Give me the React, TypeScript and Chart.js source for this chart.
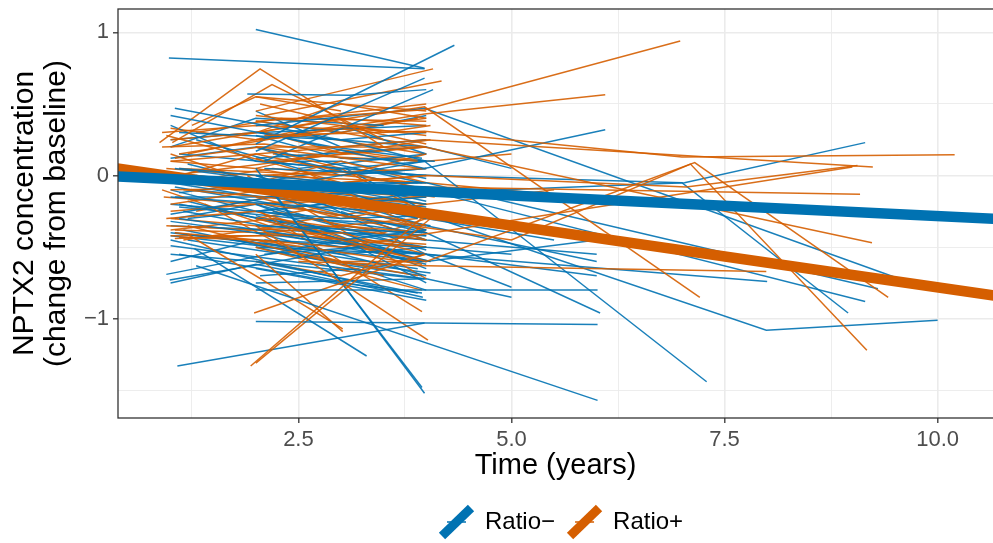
import React, { useEffect, useRef } from 'react';
import { Chart, registerables } from 'chart.js';

Chart.register(...registerables);

// ---- data ----
const xTickValues = [2.5, 5.0, 7.5, 10.0];
const yTickValues = [-1, 0, 1];
const yTickLabels = ['\u22121', '0', '1'];
const legendLabels = ['Ratio\u2212', 'Ratio+'];

// fitted group lines (time, change) read at the panel edges
const fitTimes = [0, 11];
const ratioNegFit = [0.004, -0.311];
const ratioPosFit = [0.082, -0.867];

// individual trajectories: [time (years), change from baseline]
const ratioNegSubjects: number[][][] = [
  [[2.0, 1.02], [3.98, 0.75]],
  [[0.98, 0.82], [3.98, 0.745]],
  [[2.0, 0.22], [4.33, 0.91]],
  [[1.05, 0.47], [3.08, 0.24], [4.0, 0.1]],
  [[1.9, 0.57], [3.1, 0.56], [4.0, 0.6]],
  [[2.0, 0.17], [3.98, 0.68]],
  [[2.1, 0.1], [4.08, 0.6]],
  [[1.0, 0.42], [2.9, 0.2], [3.95, 0.12]],
  [[2.05, 0.3], [3.98, 0.05], [6.1, 0.32]],
  [[2.0, 0.35], [3.98, 0.47], [9.5, -0.71]],
  [[2.0, -0.25], [4.0, -0.12], [7.03, -0.05], [9.15, 0.23]],
  [[2.1, 0.05], [4.1, 0.0], [7.0, -0.05], [8.95, -0.96]],
  [[1.1, 0.05], [3.98, -0.1], [9.15, -0.88]],
  [[1.2, -0.05], [4.0, -0.05], [9.3, -0.79]],
  [[1.0, -0.15], [3.98, -0.27], [7.99, -1.08], [10.0, -1.01]],
  [[2.0, -0.8], [6.01, -0.8]],
  [[2.0, -1.02], [6.01, -1.04]],
  [[1.08, -1.33], [3.98, -1.03]],
  [[1.3, -0.63], [6.01, -1.57]],
  [[2.0, 0.05], [3.98, -1.52]],
  [[2.2, -0.12], [3.95, -1.48]],
  [[2.0, -0.1], [3.98, 0.1], [7.29, -1.44]],
  [[1.1, -0.3], [4.0, -0.55], [8.0, -0.74]],
  [[2.0, -0.35], [4.0, -0.4], [6.04, -0.96]],
  [[0.95, -0.69], [3.0, -0.45], [4.0, -0.38]],
  [[0.99, -0.73], [3.2, -0.5]],
  [[1.0, -0.49], [3.98, -0.72]],
  [[1.28, -0.51], [3.3, -1.26]],
  [[1.0, -0.45], [3.96, -0.85]],
  [[2.0, -0.6], [3.9, -0.82]],
  [[1.0, 0.35], [2.0, 0.1], [4.0, 0.0]],
  [[1.1, 0.3], [3.0, 0.25], [4.0, 0.3]],
  [[1.0, 0.12], [2.0, 0.2], [3.95, -0.05]],
  [[1.05, 0.05], [3.0, -0.1], [4.0, -0.2]],
  [[1.0, -0.05], [2.05, -0.15], [4.0, -0.1]],
  [[1.1, -0.12], [2.0, -0.05], [3.9, -0.3]],
  [[1.0, -0.2], [3.0, -0.3], [4.0, -0.28]],
  [[1.15, -0.25], [2.1, -0.35], [4.0, -0.45]],
  [[1.0, -0.32], [2.0, -0.4], [3.95, -0.55]],
  [[1.05, -0.4], [3.0, -0.55], [4.0, -0.5]],
  [[1.2, -0.18], [4.05, -0.6]],
  [[1.0, -0.27], [2.2, -0.15], [4.0, -0.4]],
  [[2.0, 0.45], [3.0, 0.2], [4.0, 0.25]],
  [[2.05, 0.3], [4.0, 0.35]],
  [[2.0, 0.0], [3.0, -0.2], [4.0, -0.15]],
  [[2.1, -0.1], [3.1, -0.25], [4.05, -0.35]],
  [[2.0, -0.2], [4.0, -0.65]],
  [[2.2, -0.3], [3.0, -0.4], [3.95, -0.6]],
  [[2.0, -0.4], [4.0, -0.7]],
  [[2.1, -0.55], [3.2, -0.5], [4.0, -0.75]],
  [[2.0, -0.65], [4.0, -0.87]],
  [[3.0, -0.1], [4.0, -0.3]],
  [[2.5, 0.1], [4.0, -0.1]],
  [[1.0, 0.2], [2.0, 0.4], [3.5, 0.35]],
  [[1.3, 0.25], [2.5, 0.05], [4.0, 0.15]],
  [[1.0, -0.6], [2.0, -0.45], [4.0, -0.5]],
  [[1.1, -0.55], [3.0, -0.75], [3.95, -0.82]],
  [[2.0, 0.28], [3.0, 0.12], [4.1, 0.1]],
  [[1.2, 0.08], [2.3, -0.08], [4.0, -0.05]],
  [[2.0, -0.05], [3.05, 0.05], [4.0, -0.25]],
  [[1.05, -0.08], [4.0, -0.38]],
  [[3.0, 0.35], [4.0, 0.15]],
  [[2.0, -0.3], [4.0, -0.45], [6.0, -0.55]],
  [[1.0, -0.4], [4.0, -0.6], [6.0, -0.45]],
  [[2.0, -0.5], [4.0, -0.55], [5.0, -0.78]],
  [[1.25, -0.1], [3.0, -0.2], [5.5, -0.45]],
  [[2.0, 0.12], [4.0, 0.2], [5.0, 0.05]],
  [[1.0, 0.25], [2.0, 0.3], [4.0, 0.2]],
  [[1.1, 0.15], [3.0, 0.05], [4.0, 0.1]],
  [[1.0, 0.02], [2.1, -0.05], [4.0, -0.12]],
  [[1.05, -0.15], [3.0, -0.15], [4.0, -0.22]],
  [[1.0, -0.1], [2.0, -0.25], [3.95, -0.4]],
  [[1.1, -0.22], [2.5, -0.3], [4.0, -0.35]],
  [[1.0, -0.35], [3.0, -0.4], [4.0, -0.42]],
  [[1.05, -0.3], [2.0, -0.2], [4.0, -0.52]],
  [[1.0, -0.42], [2.2, -0.5], [3.9, -0.65]],
  [[1.15, -0.38], [3.0, -0.6], [4.05, -0.68]],
  [[1.0, -0.55], [2.0, -0.6], [3.95, -0.72]],
  [[1.2, -0.45], [3.5, -0.65]],
  [[2.0, 0.2], [3.0, 0.0], [4.0, 0.05]],
  [[2.05, 0.1], [3.0, 0.1], [4.0, -0.02]],
  [[2.0, -0.1], [3.0, -0.05], [4.0, -0.18]],
  [[2.1, -0.2], [3.0, -0.35], [4.0, -0.42]],
  [[2.0, -0.28], [3.05, -0.45], [4.0, -0.5]],
  [[2.2, -0.4], [3.0, -0.5], [4.0, -0.6]],
  [[2.0, -0.5], [3.0, -0.62], [3.95, -0.7]],
  [[2.05, -0.7], [3.2, -0.65], [4.0, -0.8]],
  [[2.5, -0.1], [4.0, -0.2]],
  [[2.5, -0.35], [3.5, -0.55], [4.0, -0.62]],
  [[3.0, -0.25], [4.0, -0.45]],
  [[3.0, 0.0], [4.0, 0.05]],
  [[1.3, 0.0], [2.5, -0.15], [4.0, -0.3]],
  [[1.2, -0.3], [2.8, -0.2], [4.0, -0.55]],
  [[2.0, 0.38], [3.0, 0.3], [4.0, 0.42]],
  [[1.0, -0.75], [2.0, -0.62], [3.5, -0.8]],
  [[2.0, -0.75], [4.0, -0.72], [5.0, -0.85]],
  [[2.1, -0.45], [4.0, -0.55], [6.0, -0.7]],
  [[1.1, -0.2], [4.0, -0.5], [5.0, -0.55]],
  [[2.0, 0.0], [4.0, -0.35], [6.0, -0.6]],
];

const ratioPosSubjects: number[][][] = [
  [[2.0, 0.38], [3.98, 0.46], [6.98, 0.94]],
  [[1.1, 0.15], [3.98, 0.43], [6.1, 0.565]],
  [[2.1, 0.28], [3.98, 0.31], [7.0, 0.13], [10.2, 0.145]],
  [[1.0, 0.1], [3.98, 0.25], [9.24, 0.06]],
  [[2.0, -0.1], [4.0, 0.0], [7.05, -0.08], [9.06, 0.07]],
  [[1.0, -0.1], [3.98, -0.08], [9.09, -0.13]],
  [[2.0, 0.2], [3.98, 0.2], [9.23, -0.47]],
  [[2.0, -0.3], [4.0, -0.6], [7.15, 0.09], [9.42, -0.85]],
  [[2.1, -0.2], [5.0, -0.45], [7.1, 0.08], [9.17, -1.22]],
  [[2.0, 0.3], [3.98, 0.48], [7.21, -0.85]],
  [[2.5, -0.6], [4.0, -0.63], [7.99, -0.67]],
  [[1.05, -0.4], [3.0, -0.5], [9.0, 0.06]],
  [[0.87, 0.23], [2.05, 0.745], [3.5, 0.2]],
  [[1.02, 0.23], [2.19, 0.635], [3.5, 0.25]],
  [[2.0, 0.45], [4.08, 0.745]],
  [[2.1, 0.42], [4.18, 0.66]],
  [[1.94, -1.33], [3.98, -0.28]],
  [[2.0, -1.31], [4.05, -0.3]],
  [[1.98, -0.96], [3.98, -0.55]],
  [[1.2, -0.41], [3.02, -1.07]],
  [[2.0, -0.35], [4.02, -1.15]],
  [[2.0, -0.55], [3.02, -1.09]],
  [[0.9, 0.3], [2.0, 0.35], [4.0, 0.3]],
  [[0.95, 0.28], [2.1, 0.1], [4.0, 0.2]],
  [[1.0, 0.2], [3.0, 0.4], [4.0, 0.35]],
  [[1.05, 0.12], [2.05, 0.2], [3.95, 0.05]],
  [[1.1, 0.05], [3.0, 0.0], [4.0, 0.15]],
  [[1.0, -0.02], [2.0, 0.15], [4.05, -0.1]],
  [[1.15, -0.1], [3.0, -0.2], [4.0, -0.25]],
  [[1.0, -0.2], [2.1, -0.1], [4.0, -0.35]],
  [[0.95, -0.3], [2.0, -0.25], [3.1, -0.45]],
  [[1.0, -0.38], [2.2, -0.3], [4.0, -0.45]],
  [[1.05, -0.44], [3.0, -0.4], [4.0, -0.55]],
  [[1.1, -0.43], [2.0, -0.45], [3.95, -0.62]],
  [[1.2, -0.35], [3.5, -0.7]],
  [[2.0, 0.55], [3.0, 0.5], [4.0, 0.45]],
  [[2.05, 0.5], [3.5, 0.3], [4.05, 0.35]],
  [[2.0, 0.42], [4.0, 0.28]],
  [[2.1, 0.3], [3.05, 0.15], [3.95, 0.2]],
  [[2.0, 0.12], [3.0, -0.05], [4.0, 0.0]],
  [[2.2, 0.0], [4.1, -0.15]],
  [[2.0, -0.15], [3.0, -0.3], [4.0, -0.2]],
  [[2.1, -0.4], [4.0, -0.5]],
  [[2.0, -0.5], [3.95, -0.8]],
  [[2.5, 0.05], [4.0, -0.4]],
  [[3.0, 0.1], [4.0, -0.05]],
  [[1.25, 0.35], [2.0, 0.55], [3.0, 0.45]],
  [[1.3, 0.3], [2.3, 0.4], [4.0, 0.38]],
  [[1.0, 0.15], [2.0, -0.05], [3.0, 0.1]],
  [[0.9, -0.1], [2.15, -0.35], [3.3, -0.25]],
  [[1.4, -0.2], [2.5, -0.55], [3.9, -0.7]],
  [[2.05, -0.25], [3.95, -0.95]],
  [[1.9, 0.0], [4.0, -0.72]],
  [[2.0, 0.2], [3.0, 0.05], [4.1, -0.3]],
  [[1.0, 0.25], [2.0, 0.3], [3.0, 0.5], [4.0, 0.4]],
  [[2.0, -0.1], [4.0, -0.3], [6.0, -0.45]],
  [[2.1, 0.0], [4.0, -0.05], [5.8, -0.15]],
  [[0.9, 0.2], [2.1, 0.22], [3.9, 0.1]],
  [[1.0, 0.33], [2.0, 0.25], [3.0, 0.3]],
  [[0.95, 0.05], [2.0, 0.0], [4.0, 0.05]],
  [[1.0, 0.0], [3.0, 0.15], [4.05, 0.25]],
  [[1.1, -0.05], [2.2, 0.05], [3.9, -0.05]],
  [[0.92, -0.15], [2.0, -0.2], [4.0, -0.15]],
  [[1.0, -0.25], [3.0, -0.15], [4.0, -0.3]],
  [[0.95, -0.35], [2.0, -0.38], [3.0, -0.35], [4.0, -0.4]],
  [[1.0, -0.42], [2.5, -0.42], [4.0, -0.48]],
  [[1.05, -0.38], [2.1, -0.4], [3.9, -0.3]],
  [[1.15, -0.45], [2.3, -0.35], [3.5, -0.55]],
  [[1.0, -0.3], [2.0, -0.35], [4.05, -0.6]],
  [[2.0, 0.38], [3.0, 0.3], [3.9, 0.4]],
  [[2.05, 0.25], [3.0, 0.35], [4.0, 0.22]],
  [[2.0, 0.05], [3.0, 0.18], [4.0, 0.1]],
  [[2.1, -0.05], [3.0, -0.12], [4.0, -0.08]],
  [[2.0, -0.3], [3.0, -0.2], [4.0, -0.38]],
  [[2.2, -0.25], [3.5, -0.4], [4.0, -0.3]],
  [[2.0, -0.45], [3.0, -0.6], [4.0, -0.6]],
  [[2.0, -0.6], [3.0, -0.7], [4.0, -0.55]],
  [[2.5, 0.4], [4.0, 0.5]],
  [[2.5, -0.2], [3.5, -0.35], [4.0, -0.45]],
  [[3.0, -0.15], [4.0, -0.2]],
  [[3.0, 0.3], [4.0, 0.2]],
  [[1.2, 0.15], [2.4, 0.3], [4.0, 0.15]],
  [[1.3, -0.25], [2.6, -0.1], [4.0, -0.15]],
  [[1.0, 0.1], [2.0, 0.05], [3.5, -0.1]],
  [[2.0, 0.25], [4.0, 0.4]],
  [[2.2, 0.15], [4.0, 0.1], [5.0, 0.15]],
  [[2.0, -0.05], [4.0, -0.2], [5.5, -0.1]],
];

// ---- styling ----
const BLUE = '#0072B2';
const ORANGE = '#D55E00';
const BLUE_THIN = 'rgba(0,114,178,0.9)';
const ORANGE_THIN = 'rgba(213,94,0,0.9)';
const legendColors = [BLUE, ORANGE];
const FONT = '"Liberation Sans", Arial, Helvetica, sans-serif';

const isIn = (arr: number[], v: number) => arr.some((t) => Math.abs(t - v) < 1e-6);

const panelBorder = {
  id: 'panelBorder',
  afterDraw(chart: any) {
    const { ctx, chartArea } = chart;
    ctx.save();
    ctx.strokeStyle = '#333333';
    ctx.lineWidth = 1.3;
    ctx.strokeRect(chartArea.left, chartArea.top, chartArea.right - chartArea.left + 4, chartArea.bottom - chartArea.top);
    ctx.restore();
  },
};

const ggLegend = {
  id: 'ggLegend',
  afterDraw(chart: any) {
    const ctx = chart.ctx;
    ctx.save();
    ctx.font = `24px ${FONT}`;
    let x = 440;
    const cy = 522;
    legendLabels.forEach((label, i) => {
      const color = legendColors[i];
      ctx.strokeStyle = color;
      ctx.lineCap = 'butt';
      ctx.lineWidth = 1.5;
      ctx.beginPath();
      ctx.moveTo(x + 7, cy);
      ctx.lineTo(x + 26, cy);
      ctx.stroke();
      ctx.lineWidth = 9;
      ctx.beginPath();
      ctx.moveTo(x + 2, cy + 14);
      ctx.lineTo(x + 31, cy - 14);
      ctx.stroke();
      ctx.fillStyle = '#000000';
      ctx.textBaseline = 'middle';
      ctx.textAlign = 'left';
      ctx.fillText(label, x + 45, cy);
      x += 45 + ctx.measureText(label).width + 13;
    });
    ctx.restore();
  },
};

export default function App() {
  const canvasRef = useRef<HTMLCanvasElement | null>(null);

  useEffect(() => {
    if (!canvasRef.current) return;
    Chart.defaults.font.family = FONT;

    const toPts = (s: number[][]) => s.map(([x, y]) => ({ x, y }));
    const thin: any[] = [];
    const n = Math.max(ratioNegSubjects.length, ratioPosSubjects.length);
    for (let i = 0; i < n; i++) {
      if (i < ratioPosSubjects.length) {
        thin.push({
          label: 'pos' + i,
          data: toPts(ratioPosSubjects[i]),
          borderColor: ORANGE_THIN,
          borderWidth: 1.5,
          pointRadius: 0,
          tension: 0,
          clip: 0,
        });
      }
      if (i < ratioNegSubjects.length) {
        thin.push({
          label: 'neg' + i,
          data: toPts(ratioNegSubjects[i]),
          borderColor: BLUE_THIN,
          borderWidth: 1.5,
          pointRadius: 0,
          tension: 0,
          clip: 0,
        });
      }
    }

    const chart = new Chart(canvasRef.current, {
      type: 'line',
      data: {
        datasets: [
          {
            label: legendLabels[0],
            data: fitTimes.map((t, i) => ({ x: t, y: ratioNegFit[i] })),
            borderColor: BLUE,
            borderWidth: 10.5,
            borderCapStyle: 'butt',
            pointRadius: 0,
            tension: 0,
            clip: 0,
          },
          {
            label: legendLabels[1],
            data: fitTimes.map((t, i) => ({ x: t, y: ratioPosFit[i] })),
            borderColor: ORANGE,
            borderWidth: 10.5,
            borderCapStyle: 'butt',
            pointRadius: 0,
            tension: 0,
            clip: 0,
          },
          ...thin,
        ],
      },
      options: {
        responsive: false,
        animation: false,
        events: [],
        layout: { padding: { top: 9, left: 0, right: 0, bottom: 0 } },
        plugins: { legend: { display: false }, tooltip: { enabled: false } },
        scales: {
          x: {
            type: 'linear',
            min: 0.383,
            max: 10.65,
            afterFit(scale: any) {
              scale.height = 125;
              scale.paddingLeft = 0;
              scale.paddingRight = 0;
            },
            ticks: {
              stepSize: 1.25,
              includeBounds: false,
              autoSkip: false,
              maxRotation: 0,
              minRotation: 0,
              color: '#4D4D4D',
              font: { size: 22 },
              padding: 4,
              callback: (v: any) => (isIn(xTickValues, Number(v)) ? Number(v).toFixed(1) : ''),
            },
            grid: {
              color: '#EBEBEB',
              lineWidth: (c: any) => (c.tick && isIn(xTickValues, c.tick.value) ? 1.6 : 0.9),
              tickLength: 5,
              tickWidth: 1.3,
              tickColor: (c: any) => (c.tick && isIn(xTickValues, c.tick.value) ? '#333333' : 'rgba(0,0,0,0)'),
            },
            border: { display: false },
            title: {
              display: true,
              text: 'Time (years)',
              color: '#000000',
              font: { size: 29 },
              padding: { top: 0, bottom: 60 },
            },
          },
          y: {
            type: 'linear',
            min: -1.693,
            max: 1.163,
            afterFit(scale: any) {
              scale.width = 118;
              scale.paddingTop = 0;
              scale.paddingBottom = 0;
            },
            ticks: {
              stepSize: 0.5,
              includeBounds: false,
              autoSkip: false,
              color: '#4D4D4D',
              font: { size: 22 },
              padding: 4,
              callback: (v: any) => {
                const idx = yTickValues.findIndex((t) => Math.abs(t - Number(v)) < 1e-6);
                return idx >= 0 ? yTickLabels[idx] : '';
              },
            },
            grid: {
              color: '#EBEBEB',
              lineWidth: (c: any) => (c.tick && isIn(yTickValues, c.tick.value) ? 1.6 : 0.9),
              tickLength: 5,
              tickWidth: 1.3,
              tickColor: (c: any) => (c.tick && isIn(yTickValues, c.tick.value) ? '#333333' : 'rgba(0,0,0,0)'),
            },
            border: { display: false },
            title: {
              display: true,
              text: ['NPTX2 concentration', '(change from baseline)'],
              color: '#000000',
              font: { size: 30, lineHeight: 1.07 },
              padding: { top: 9, bottom: 0 },
            },
          },
        },
      },
      plugins: [panelBorder, ggLegend],
    } as any);

    return () => chart.destroy();
  }, []);

  return (
    <div style={{ position: 'fixed', left: 0, top: 0, width: 993, height: 543, background: '#ffffff' }}>
      <canvas ref={canvasRef} width={993} height={543} style={{ display: 'block' }} />
    </div>
  );
}
